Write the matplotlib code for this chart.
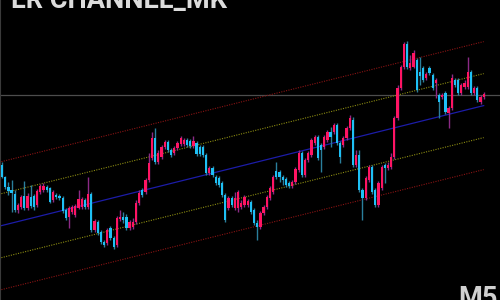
"""
LR channel candlestick chart (M5) on a dark background.
"""

import matplotlib.pyplot as plt
import numpy as np

# candle prices, oldest first
opens = [135, 123, 113, 110, 106, 90, 93, 104, 92, 103, 104, 95, 108, 110, 113, 112, 100, 105, 104, 102,
         90, 83, 88, 85, 92, 93, 100, 93, 106, 70, 78, 68, 58, 57, 72, 62, 55, 81, 83, 83,
         72, 73, 78, 97, 110, 108, 120, 142, 162, 138, 143, 153, 158, 150, 147, 152, 156, 156, 160, 159,
         154, 157, 153, 153, 145, 127, 132, 123, 122, 117, 105, 92, 102, 92, 92, 93, 95, 95, 98, 90,
         77, 73, 87, 93, 102, 108, 129, 128, 123, 121, 117, 114, 118, 130, 147, 125, 140, 145, 157, 163,
         155, 153, 160, 168, 168, 175, 157, 155, 162, 172, 180, 135, 145, 110, 102, 120, 133, 110, 95, 112,
         135, 132, 133, 143, 182, 212, 233, 256, 232, 233, 240, 228, 232, 222, 232, 225, 217, 205, 203, 207,
         187, 192, 220, 220, 207, 213, 213, 228, 207, 212, 198, 203]
closes = [123, 113, 109, 107, 90, 95, 103, 92, 104, 94, 93, 109, 114, 114, 110, 98, 108, 103, 102, 89,
          82, 92, 93, 94, 101, 101, 93, 106, 70, 79, 67, 58, 55, 70, 62, 53, 82, 83, 80, 72,
          78, 78, 97, 107, 105, 120, 137, 162, 138, 147, 153, 158, 150, 145, 152, 157, 162, 160, 155, 154,
          159, 146, 146, 145, 127, 132, 125, 117, 115, 105, 80, 102, 95, 102, 108, 97, 103, 99, 88, 77,
          73, 87, 93, 103, 112, 123, 123, 123, 120, 115, 114, 118, 131, 147, 125, 140, 147, 160, 163, 142,
          150, 163, 168, 163, 175, 157, 143, 162, 172, 182, 135, 145, 110, 102, 122, 133, 108, 95, 117, 133,
          132, 135, 143, 182, 212, 233, 256, 233, 237, 247, 210, 224, 220, 226, 227, 212, 220, 198, 205, 188,
          192, 222, 215, 207, 215, 217, 228, 207, 212, 200, 203, 206]
highs = [138, 124, 118, 120, 110, 97, 105, 119, 107, 115, 106, 111, 116, 117, 115, 113, 110, 107, 106, 104,
         92, 94, 95, 96, 110, 103, 102, 123, 108, 81, 80, 70, 60, 72, 74, 64, 84, 90, 88, 86,
         80, 82, 100, 110, 112, 122, 147, 168, 172, 150, 155, 160, 160, 152, 154, 159, 164, 162, 162, 161,
         164, 159, 155, 155, 147, 134, 134, 125, 124, 119, 107, 104, 104, 108, 110, 100, 105, 101, 100, 92,
         80, 89, 95, 105, 114, 125, 138, 130, 125, 123, 119, 120, 133, 150, 149, 142, 149, 162, 165, 165,
         157, 165, 170, 173, 177, 177, 159, 164, 174, 185, 183, 150, 150, 112, 124, 135, 135, 112, 119, 135,
         137, 138, 147, 184, 215, 235, 258, 259, 245, 250, 242, 243, 234, 228, 234, 227, 222, 207, 207, 209,
         194, 226, 222, 222, 217, 220, 243, 230, 214, 214, 205, 208]
lows = [122, 111, 105, 88, 88, 87, 91, 90, 90, 92, 90, 93, 106, 108, 108, 97, 98, 101, 100, 87,
        80, 72, 86, 83, 91, 91, 91, 91, 68, 68, 65, 56, 53, 55, 60, 51, 53, 79, 77, 70,
        70, 71, 76, 95, 103, 106, 118, 140, 136, 136, 141, 151, 148, 143, 145, 150, 154, 154, 153, 152,
        152, 144, 144, 143, 125, 125, 123, 115, 113, 103, 78, 90, 93, 90, 88, 91, 93, 93, 86, 75,
        60, 71, 85, 91, 100, 106, 121, 118, 115, 113, 112, 112, 116, 128, 123, 123, 138, 143, 155, 140,
        128, 151, 158, 153, 166, 155, 137, 153, 160, 170, 133, 133, 108, 80, 100, 118, 106, 93, 93, 110,
        117, 130, 131, 141, 180, 210, 231, 231, 230, 232, 208, 215, 218, 220, 225, 210, 202, 182, 201, 186,
        172, 190, 213, 205, 205, 211, 211, 205, 205, 198, 196, 201]

# regression channel: centre at first / last bar, band offsets
channel_start = 74.5
channel_end = 194.4
inner_dev = 32
outer_dev = 64
current_price = 205

title = "LR CHANNEL_MK"
timeframe = "M5"

UP = "#ff1463"
DOWN = "#1ec0f5"
UP_WICK = "#8c2a86"
DOWN_WICK = "#2a7f9c"


def main():
    n = len(opens)
    idx = np.arange(n)
    o = np.array(opens, dtype=float)
    c = np.array(closes, dtype=float)
    h = np.array(highs, dtype=float)
    lo = np.array(lows, dtype=float)
    up = c >= o

    fig = plt.figure(figsize=(5, 3), dpi=100, facecolor="black")
    ax = fig.add_axes([0, 0, 1, 1], facecolor="black")

    step = 500 / 3.19  # bar spacing in pixels -> visible index range
    x0 = -0.63
    ax.set_xlim(x0, x0 + step)
    ax.set_ylim(0, 300)

    # current price line
    ax.axhline(current_price, color="#4d4d4d", lw=0.9, zorder=1)

    # channel lines
    slope = (channel_end - channel_start) / (n - 1)
    xs = np.array([x0 - 1, n - 1])
    centre = channel_start + slope * xs
    ax.plot(xs, centre, color="#1c1ca8", lw=0.9, zorder=2)
    for dev, col in [(inner_dev, "#8c8c12"), (outer_dev, "#8a1414")]:
        ax.plot(xs, centre + dev, color=col, lw=0.8, ls=(0, (1, 1.2)), zorder=2)
        ax.plot(xs, centre - dev, color=col, lw=0.8, ls=(0, (1, 1.2)), zorder=2)

    # candles
    ax.vlines(idx, lo, h, colors=np.where(up, UP_WICK, DOWN_WICK), lw=1.0, zorder=3)
    body = np.maximum(np.abs(c - o), 0.9)
    ax.bar(idx, body, bottom=np.minimum(o, c), width=0.7,
           color=np.where(up, UP, DOWN), linewidth=0, zorder=4)

    ax.set_xticks([])
    ax.set_yticks([])
    for side, sp in ax.spines.items():
        sp.set_visible(side == "left")
    ax.spines["left"].set_color("#3a3a3a")

    fig.text(11 / 500, 1 - 8 / 300, title, color="#dcdcdc", fontsize=19.5,
             fontfamily="Roboto", fontweight="bold", va="baseline", ha="left")
    fig.text(458 / 500, -6 / 300, timeframe, color="#d0d0d0", fontsize=19.5,
             fontfamily="Roboto", fontweight="bold", va="baseline", ha="left")

    fig.savefig("out.png", dpi=100, facecolor="black")
    plt.close(fig)


if __name__ == "__main__":
    main()
